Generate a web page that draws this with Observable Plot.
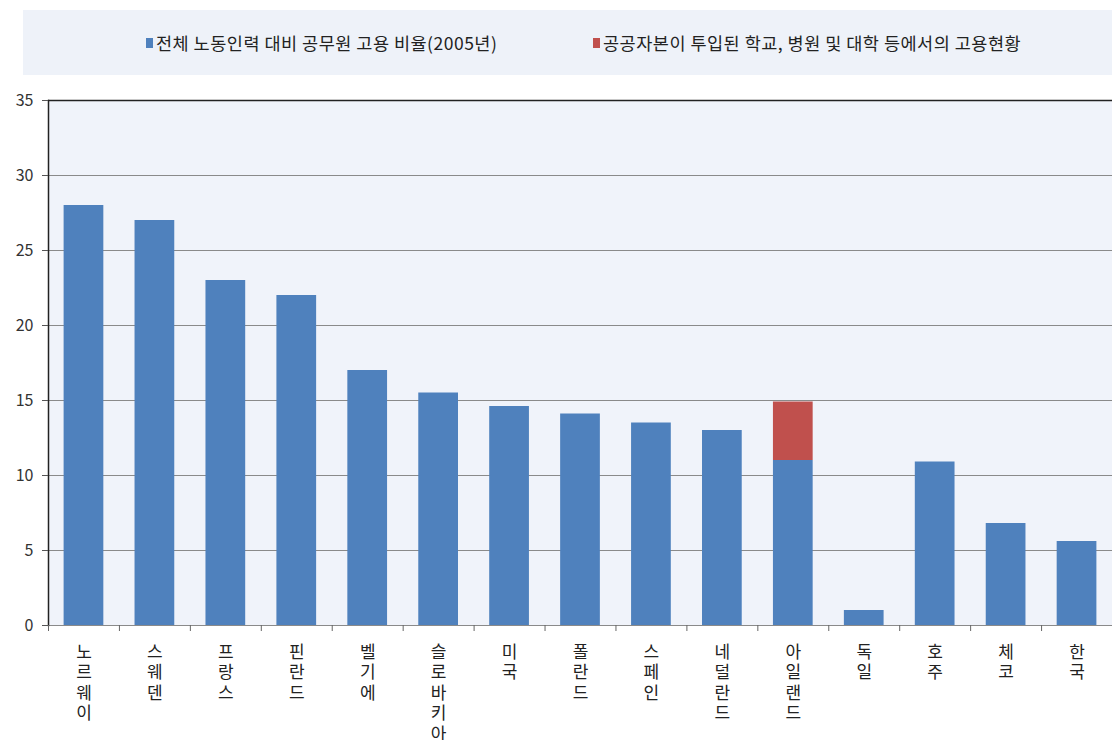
<!DOCTYPE html>
<html><head><meta charset="utf-8">
<script src="https://cdn.jsdelivr.net/npm/d3@7"></script>
<script src="https://cdn.jsdelivr.net/npm/@observablehq/plot@0.6"></script>
<style>
body{margin:0;background:#fff;font-family:"Noto Sans CJK KR","Noto Sans",sans-serif;}
#legend{position:relative;margin:10px 0 0 23px;width:1089px;height:65px;background:#eef2f9;font-size:17.5px;letter-spacing:0.5px;color:#222;}
.item{position:absolute;top:20px;display:flex;align-items:center;white-space:nowrap;}
.sw{width:7px;height:10px;margin-right:3px;}
#chart{margin-top:13px;}
</style></head>
<body>
<div id="legend"></div>
<div id="chart"></div>
<script>
const countries = ["노르웨이","스웨덴","프랑스","핀란드","벨기에","슬로바키아","미국","폴란드","스페인","네덜란드","아일랜드","독일","호주","체코","한국"];
const publicEmployment = [28, 27, 23, 22, 17, 15.5, 14.6, 14.1, 13.5, 13, 11, 1, 10.9, 6.8, 5.6];
const publicFunded = [0, 0, 0, 0, 0, 0, 0, 0, 0, 0, 3.9, 0, 0, 0, 0];
const seriesNames = ["전체 노동인력 대비 공무원 고용 비율(2005년)", "공공자본이 투입된 학교, 병원 및 대학 등에서의 고용현황"];
const seriesColors = ["#4f81bd", "#c0504d"];
const yTicks = [0, 5, 10, 15, 20, 25, 30, 35];

const legend = document.getElementById("legend");
const lx = [123, 570];
seriesNames.forEach((s, i) => {
  const d = document.createElement("div");
  d.className = "item";
  d.style.left = lx[i] + "px";
  d.innerHTML = `<span class="sw" style="background:${seriesColors[i]}"></span><span>${s}</span>`;
  legend.appendChild(d);
});

const rows = [];
countries.forEach((c, i) => {
  rows.push({country: c, series: seriesNames[0], value: publicEmployment[i]});
  if (publicFunded[i] > 0) rows.push({country: c, series: seriesNames[1], value: publicFunded[i]});
});

const width = 1112, height = 652, mL = 48, mR = 0, mT = 12, mB = 115;
const pi = 0.44, po = 0.22;
const step = (width - mL - mR) / (countries.length - pi + 2 * po);

const chart = Plot.plot({
  width, height,
  marginLeft: mL, marginRight: mR, marginTop: mT, marginBottom: mB,
  style: {fontFamily: '"Noto Sans CJK KR","Noto Sans",sans-serif', background: "#fff"},
  x: {domain: countries, paddingInner: pi, paddingOuter: po, round: false, label: null},
  y: {domain: [0, 35], label: null},
  color: {domain: seriesNames, range: seriesColors},
  marks: [
    Plot.frame({fill: "#f0f3fa", stroke: null}),
    Plot.gridY(yTicks.filter(t => t > 0 && t < 35), {stroke: "#8a8a8a", strokeOpacity: 1, strokeWidth: 1}),
    Plot.ruleY([0], {stroke: "#8a8a8a"}),
    Plot.barY(rows, {x: "country", y: "value", fill: "series", inset: 0}),
    Plot.ruleY([35], {stroke: "#222", strokeWidth: 1.5}),
    Plot.frame({anchor: "left", stroke: "#222", strokeWidth: 1.5}),
    Plot.axisY(yTicks, {tickSize: 6, tickPadding: 9, fontSize: 16, fill: "#333", stroke: "#555", label: null}),
    Plot.axisX({tickSize: 6, dx: -step / 2, tickFormat: () => "", stroke: "#666", label: null}),
    Plot.axisX({tickSize: 0, tickPadding: 18, fontSize: 17, lineHeight: 1.2, fill: "#222", tickFormat: d => d.split("").join("\n"), label: null})
  ]
});
document.getElementById("chart").appendChild(chart);
</script>
</body></html>
